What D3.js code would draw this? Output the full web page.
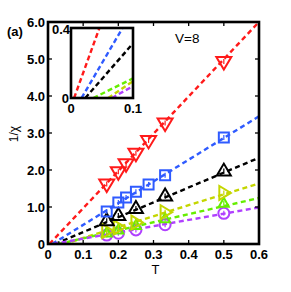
<!DOCTYPE html>
<html>
<head>
<meta charset="utf-8">
<script src="https://cdn.jsdelivr.net/npm/d3@7"></script>
<style>
  body { margin: 0; background: #fff; }
  svg { display: block; }
  .tick-label { font-family: "Liberation Sans", Arial, sans-serif; font-weight: bold; font-size: 13px; }
</style>
</head>
<body>
<svg id="chart" width="291" height="292"></svg>
<script>
// Data
var seriesNames = ["red", "blue", "black", "yellow", "green", "purple"];
var seriesColors = ["#ff1a1a", "#2f5bff", "#000000", "#c4d600", "#66ee00", "#b040ff"];
var seriesShapes = ["triDown", "square", "triUp", "triRight", "triUpSmall", "circle"];

var T_red = [0.167, 0.2, 0.222, 0.25, 0.286, 0.333, 0.5];
var V_red = [1.62, 1.95, 2.17, 2.45, 2.80, 3.27, 4.93];
var T_blue = [0.167, 0.2, 0.222, 0.25, 0.286, 0.333, 0.5];
var V_blue = [0.88, 1.12, 1.26, 1.41, 1.61, 1.86, 2.88];
var T_black = [0.167, 0.2, 0.25, 0.333, 0.5];
var V_black = [0.63, 0.77, 0.96, 1.30, 1.97];
var T_yellow = [0.167, 0.2, 0.25, 0.333, 0.5];
var V_yellow = [0.35, 0.45, 0.58, 0.86, 1.38];
var T_green = [0.167, 0.2, 0.25, 0.333, 0.5];
var V_green = [0.30, 0.38, 0.50, 0.68, 1.10];
var T_purple = [0.167, 0.2, 0.25, 0.333, 0.5];
var V_purple = [0.24, 0.29, 0.38, 0.52, 0.83];

// linear fits: 1/chi = slope*(T - T0)
var fitT0 = [0.004, 0.012, 0.02, 0.045, 0.03, 0.015];
var fitSlope = [10.07, 5.87, 4.02, 2.95, 2.18, 1.69];
// fits shown in the inset
var insetT0 = [0.005, 0.017, 0.023, 0.06, 0.036, 0.066];
var insetSlope = [9.8, 6.05, 4.05, 2.4, 1.75, 2.0];

var xTicks = [0, 0.1, 0.2, 0.3, 0.4, 0.5, 0.6];
var xTickLabels = ["0", "0.1", "0.2", "0.3", "0.4", "0.5", "0.6"];
var yTicks = [0, 1, 2, 3, 4, 5, 6];
var yTickLabels = ["0", "1.0", "2.0", "3.0", "4.0", "5.0", "6.0"];

var seriesT = [T_red, T_blue, T_black, T_yellow, T_green, T_purple];
var seriesV = [V_red, V_blue, V_black, V_yellow, V_green, V_purple];

function init() {
  var svg = d3.select("#chart");

  var x = d3.scaleLinear().domain([0, 0.6]).range([48, 259]);
  var y = d3.scaleLinear().domain([0, 6]).range([244, 22]);

  var ix = d3.scaleLinear().domain([0, 0.1]).range([71, 133]);
  var iy = d3.scaleLinear().domain([0, 0.4]).range([98, 28]);

  var defs = svg.append("defs");
  defs.append("clipPath").attr("id", "clipMain")
      .append("rect").attr("x", 48).attr("y", 22).attr("width", 211).attr("height", 222);
  defs.append("clipPath").attr("id", "clipInset")
      .append("rect").attr("x", 71).attr("y", 28).attr("width", 62).attr("height", 70);

  // fit lines in main plot
  var line = d3.line().x(function(d) { return x(d[0]); }).y(function(d) { return y(d[1]); });
  var gLines = svg.append("g").attr("clip-path", "url(#clipMain)");
  seriesNames.forEach(function(name, i) {
    var t0 = fitT0[i], s = fitSlope[i];
    gLines.append("path")
          .attr("d", line([[t0, 0], [0.6, s * (0.6 - t0)]]))
          .attr("fill", "none")
          .attr("stroke", seriesColors[i])
          .attr("stroke-width", 2.4)
          .attr("stroke-dasharray", "5,3.5");
  });

  // marker shapes
  function shapePath(shape) {
    switch (shape) {
      case "triDown": return "M-7.5,-4.5L7.5,-4.5L0,8Z";
      case "triUp": return "M-7,4.5L7,4.5L0,-7.5Z";
      case "triUpSmall": return "M-5,3.5L5,3.5L0,-5.5Z";
      case "triRight": return "M-4.5,-7L-4.5,7L7,0Z";
      case "square": return "M-5,-5L5,-5L5,5L-5,5Z";
      case "circle": return d3.symbol().type(d3.symbolCircle).size(95)();
    }
  }

  var gPts = svg.append("g");
  // draw back to front so that upper series sit on top
  [5, 4, 3, 2, 1, 0].forEach(function(i) {
    var pts = seriesT[i].map(function(t, k) { return [t, seriesV[i][k]]; });
    var g = gPts.selectAll(".pt-" + seriesNames[i])
        .data(pts)
        .enter()
        .append("g")
        .attr("class", "pt-" + seriesNames[i])
        .attr("transform", function(d) { return "translate(" + x(d[0]) + "," + y(d[1]) + ")"; });
    g.append("path")
     .attr("d", shapePath(seriesShapes[i]))
     .attr("fill", "none")
     .attr("stroke", seriesColors[i])
     .attr("stroke-width", 2);
    // small error bar inside
    g.append("line")
     .attr("x1", 0).attr("x2", 0).attr("y1", -2.5).attr("y2", 2.5)
     .attr("stroke", seriesColors[i])
     .attr("stroke-width", 1.2);
  });

  // main frame
  svg.append("rect")
     .attr("x", 48).attr("y", 22).attr("width", 211).attr("height", 222)
     .attr("fill", "none").attr("stroke", "#000").attr("stroke-width", 2.6);

  // ticks (inward, all sides)
  var gTicks = svg.append("g").attr("stroke", "#000").attr("stroke-width", 1.3);
  gTicks.selectAll(".xb").data(xTicks).enter().append("line")
        .attr("x1", function(d) { return x(d); }).attr("x2", function(d) { return x(d); })
        .attr("y1", 244).attr("y2", 240);
  gTicks.selectAll(".xt").data(xTicks).enter().append("line")
        .attr("x1", function(d) { return x(d); }).attr("x2", function(d) { return x(d); })
        .attr("y1", 22).attr("y2", 26);
  gTicks.selectAll(".yl").data(yTicks).enter().append("line")
        .attr("y1", function(d) { return y(d); }).attr("y2", function(d) { return y(d); })
        .attr("x1", 48).attr("x2", 52);
  gTicks.selectAll(".yr").data(yTicks).enter().append("line")
        .attr("y1", function(d) { return y(d); }).attr("y2", function(d) { return y(d); })
        .attr("x1", 259).attr("x2", 255);

  // tick labels
  svg.selectAll(".xlab").data(xTicks).enter().append("text")
     .attr("class", "tick-label")
     .attr("x", function(d) { return x(d); })
     .attr("y", 259)
     .attr("text-anchor", "middle")
     .text(function(d, i) { return xTickLabels[i]; });
  svg.selectAll(".ylab").data(yTicks).enter().append("text")
     .attr("class", "tick-label")
     .attr("x", 45)
     .attr("y", function(d) { return y(d) + 5; })
     .attr("text-anchor", "end")
     .text(function(d, i) { return yTickLabels[i]; });

  // axis titles
  svg.append("text")
     .attr("x", x(0.3) + 2).attr("y", 274)
     .attr("text-anchor", "middle")
     .style("font-family", "Liberation Sans, Arial, sans-serif")
     .style("font-size", "13px")
     .text("T");
  svg.append("text")
     .attr("transform", "translate(18,134) rotate(-90)")
     .attr("text-anchor", "middle")
     .style("font-family", "Liberation Sans, Arial, sans-serif")
     .style("font-size", "12px")
     .text("1/\u03c7");

  svg.append("text")
     .attr("x", 7).attr("y", 36)
     .style("font-family", "Liberation Sans, Arial, sans-serif")
     .style("font-weight", "bold")
     .style("font-size", "13px")
     .text("(a)");
  svg.append("text")
     .attr("x", 175).attr("y", 43)
     .style("font-family", "Liberation Sans, Arial, sans-serif")
     .style("font-size", "13.5px")
     .text("V=8");

  // INSET
  svg.append("rect")
     .attr("x", 71).attr("y", 28).attr("width", 62).attr("height", 70)
     .attr("fill", "#fff");
  var iline = d3.line().x(function(d) { return ix(d[0]); }).y(function(d) { return iy(d[1]); });
  var gInset = svg.append("g").attr("clip-path", "url(#clipInset)");
  seriesNames.forEach(function(name, i) {
    var t0 = insetT0[i], s = insetSlope[i];
    gInset.append("path")
          .attr("d", iline([[t0, 0], [0.1, s * (0.1 - t0)]]))
          .attr("fill", "none")
          .attr("stroke", seriesColors[i])
          .attr("stroke-width", 2.4)
          .attr("stroke-dasharray", "5,3");
  });
  svg.append("rect")
     .attr("x", 71).attr("y", 28).attr("width", 62).attr("height", 70)
     .attr("fill", "none").attr("stroke", "#000").attr("stroke-width", 2.6);

  svg.append("text").attr("class", "tick-label")
     .attr("x", 70).attr("y", 34).attr("text-anchor", "end").text("0.4");
  svg.append("text").attr("class", "tick-label")
     .attr("x", 69).attr("y", 103).attr("text-anchor", "end").text("0");
  svg.append("text").attr("class", "tick-label")
     .attr("x", ix(0)).attr("y", 113).attr("text-anchor", "middle").text("0");
  svg.append("text").attr("class", "tick-label")
     .attr("x", ix(0.1)).attr("y", 113).attr("text-anchor", "middle").text("0.1");
}

init();
</script>
</body>
</html>
